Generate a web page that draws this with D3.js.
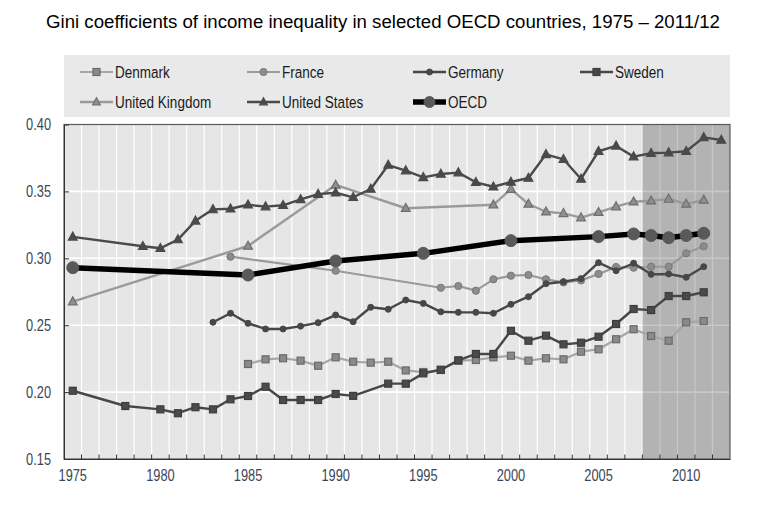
<!DOCTYPE html>
<html>
<head>
<meta charset="utf-8">
<script src="https://cdn.jsdelivr.net/npm/d3@7"></script>
<style>
  html, body { margin: 0; padding: 0; background: #ffffff; }
  svg { display: block; }
  text { font-family: "Liberation Sans", Arial, sans-serif; }
</style>
</head>
<body>
<svg id="chart" width="760" height="505"></svg>
<script>
// ---------- DATA ----------
const title = "Gini coefficients of income inequality in selected OECD countries, 1975 \u2013 2011/12";
const categories = d3.range(1975, 2013);               // yearly category axis 1975..2012
const xTickLabels = ["1975", "1980", "1985", "1990", "1995", "2000", "2005", "2010"];
const yTickValues = [0.15, 0.20, 0.25, 0.30, 0.35, 0.40];
const shadedYears = [2008, 2012];

const denmarkYears  = [1985,1986,1987,1988,1989,1990,1991,1992,1993,1994,1995,1996,1997,1998,1999,2000,2001,2002,2003,2004,2005,2006,2007,2008,2009,2010,2011];
const denmarkValues = [0.221,0.2245,0.2253,0.2235,0.2197,0.226,0.2227,0.222,0.2227,0.2162,0.215,0.2165,0.2235,0.224,0.226,0.2272,0.2235,0.2253,0.2245,0.2302,0.232,0.2395,0.247,0.2419,0.2384,0.2522,0.2531];

const franceYears  = [1984,1990,1996,1997,1998,1999,2000,2001,2002,2003,2004,2005,2006,2007,2008,2009,2010,2011];
const franceValues = [0.3012,0.2907,0.278,0.2793,0.2758,0.2843,0.287,0.2875,0.2843,0.282,0.2835,0.2883,0.2935,0.293,0.2937,0.2937,0.3037,0.309];

const germanyYears  = [1983,1984,1985,1986,1987,1988,1989,1990,1991,1992,1993,1994,1995,1996,1997,1998,1999,2000,2001,2002,2003,2004,2005,2006,2007,2008,2009,2010,2011];
const germanyValues = [0.2522,0.2589,0.2514,0.2472,0.2472,0.2493,0.2519,0.2576,0.2526,0.2634,0.2619,0.2688,0.2663,0.26,0.2596,0.2596,0.2589,0.2656,0.2713,0.281,0.2825,0.2848,0.2967,0.2907,0.2963,0.288,0.2883,0.2858,0.2937];

const swedenYears  = [1975,1978,1980,1981,1982,1983,1984,1985,1986,1987,1988,1989,1990,1991,1993,1994,1995,1996,1997,1998,1999,2000,2001,2002,2003,2004,2005,2006,2007,2008,2009,2010,2011];
const swedenValues = [0.201,0.1896,0.1871,0.1842,0.1887,0.1871,0.1946,0.1971,0.204,0.1941,0.1941,0.1941,0.1986,0.1972,0.2063,0.2063,0.214,0.2167,0.2237,0.2285,0.2285,0.2458,0.2384,0.2422,0.2357,0.2369,0.2414,0.2509,0.2621,0.2613,0.2718,0.2718,0.2746];

const ukYears  = [1975,1985,1990,1994,1999,2000,2001,2002,2003,2004,2005,2006,2007,2008,2009,2010,2011];
const ukValues = [0.2676,0.3092,0.3548,0.3374,0.34,0.3517,0.3406,0.3348,0.3336,0.3304,0.3344,0.3386,0.3423,0.343,0.3443,0.3406,0.3436];

const usYears  = [1975,1979,1980,1981,1982,1983,1984,1985,1986,1987,1988,1989,1990,1991,1992,1993,1994,1995,1996,1997,1998,1999,2000,2001,2002,2003,2004,2005,2006,2007,2008,2009,2010,2011,2012];
const usValues = [0.316,0.309,0.3075,0.314,0.328,0.3366,0.337,0.34,0.3386,0.3396,0.344,0.348,0.349,0.3456,0.3518,0.3697,0.3655,0.3605,0.363,0.364,0.3568,0.3535,0.357,0.36,0.3777,0.374,0.3593,0.38,0.384,0.376,0.3785,0.379,0.38,0.3904,0.3884];

const oecdYears  = [1975,1985,1990,1995,2000,2005,2007,2008,2009,2010,2011];
const oecdValues = [0.293,0.2875,0.298,0.3037,0.3132,0.3162,0.3182,0.317,0.3154,0.317,0.3187];

const seriesNames = ["Denmark", "France", "Germany", "Sweden", "United Kingdom", "United States", "OECD"];

// ---------- STYLES ----------
const styles = {
  "Denmark":        {line: "#a6a6a6", width: 2.2, marker: "square",   size: 7,  fill: "#8a8a8a", stroke: "#6a6a6a"},
  "France":         {line: "#9a9a9a", width: 2.2, marker: "circle",   size: 3.6, fill: "#8c8c8c", stroke: "#777777"},
  "Germany":        {line: "#474747", width: 2.4, marker: "circle",   size: 3,  fill: "#474747", stroke: "#474747"},
  "Sweden":         {line: "#474747", width: 2.4, marker: "square",   size: 7,  fill: "#4a4a4a", stroke: "#3d3d3d"},
  "United Kingdom": {line: "#9a9a9a", width: 2.4, marker: "triangle", size: 8,  fill: "#8f8f8f", stroke: "#6e6e6e"},
  "United States":  {line: "#4a4a4a", width: 2.4, marker: "triangle", size: 8,  fill: "#4a4a4a", stroke: "#4a4a4a"},
  "OECD":           {line: "#000000", width: 5.5, marker: "circle",   size: 6,  fill: "#595959", stroke: "#595959"}
};

const seriesData = {
  "Denmark":        d3.zip(denmarkYears, denmarkValues),
  "France":         d3.zip(franceYears, franceValues),
  "Germany":        d3.zip(germanyYears, germanyValues),
  "Sweden":         d3.zip(swedenYears, swedenValues),
  "United Kingdom": d3.zip(ukYears, ukValues),
  "United States":  d3.zip(usYears, usValues),
  "OECD":           d3.zip(oecdYears, oecdValues)
};

// ---------- LAYOUT ----------
const svg = d3.select("#chart");
const plot = {left: 64, right: 730, top: 124.5, bottom: 459};
const narrowTick = 0.8, narrowLegend = 0.82;

const x = d3.scaleBand().domain(categories).range([plot.left, plot.right]).padding(0);
const y = d3.scaleLinear().domain([0.15, 0.40]).range([plot.bottom, plot.top]);
const cx = yr => x(yr) + x.bandwidth() / 2;

// Title
svg.append("text")
  .attr("x", 383).attr("y", 28)
  .attr("text-anchor", "middle")
  .attr("font-size", 17.5)
  .attr("textLength", 674)
  .attr("lengthAdjust", "spacingAndGlyphs")
  .attr("fill", "#000")
  .text(title);

// Legend box
svg.append("rect")
  .attr("x", plot.left).attr("y", 55)
  .attr("width", plot.right - plot.left).attr("height", 62)
  .attr("fill", "#e9e9e9");

// Plot background
svg.append("rect")
  .attr("x", plot.left).attr("y", plot.top)
  .attr("width", plot.right - plot.left).attr("height", plot.bottom - plot.top)
  .attr("fill", "#e6e6e6");

// Vertical gridlines at band boundaries
const g = svg.append("g");
g.selectAll("line.vg").data(categories.slice(1))
  .join("line").attr("class", "vg")
  .attr("x1", d => x(d)).attr("x2", d => x(d))
  .attr("y1", plot.top).attr("y2", plot.bottom)
  .attr("stroke", "#ffffff").attr("stroke-width", 1.2);

// Horizontal gridlines
g.selectAll("line.hg").data(yTickValues.slice(1, -1))
  .join("line").attr("class", "hg")
  .attr("x1", plot.left).attr("x2", plot.right)
  .attr("y1", d => y(d)).attr("y2", d => y(d))
  .attr("stroke", "#ffffff").attr("stroke-width", 1.6);

// Shaded area
svg.append("rect")
  .attr("x", x(shadedYears[0])).attr("y", plot.top)
  .attr("width", x(shadedYears[1]) + x.bandwidth() - x(shadedYears[0]))
  .attr("height", plot.bottom - plot.top)
  .attr("fill", "#000").attr("fill-opacity", 0.22);

// Border
svg.append("rect")
  .attr("x", plot.left).attr("y", plot.top)
  .attr("width", plot.right - plot.left).attr("height", plot.bottom - plot.top)
  .attr("fill", "none").attr("stroke", "#5a5a5a").attr("stroke-width", 1.2);

// Axes
const yAxis = d3.axisLeft(y).tickValues(yTickValues).tickFormat(d3.format(".2f")).tickSizeInner(-5).tickSizeOuter(0).tickPadding(0);
const yG = svg.append("g").attr("transform", `translate(${plot.left},0)`).call(yAxis);
yG.select(".domain").attr("stroke", "#333");
yG.selectAll(".tick line").attr("stroke", "#333");
yG.selectAll(".tick text")
  .attr("x", 0)
  .attr("transform", `translate(-13,0) scale(${narrowTick},1)`)
  .attr("font-size", 16).attr("fill", "#3a4658");

const xAxis = d3.axisBottom(x).tickValues(categories).tickSize(0).tickPadding(11)
  .tickFormat(d => xTickLabels.includes(String(d)) ? String(d) : "");
const xG = svg.append("g").attr("transform", `translate(0,${plot.bottom})`).call(xAxis);
xG.select(".domain").attr("stroke", "#333");
xG.selectAll(".tick text")
  .attr("transform", `scale(${narrowTick},1)`)
  .attr("font-size", 16).attr("fill", "#3a4658");
xG.selectAll("line.bt").data(categories.slice(1))
  .join("line").attr("class", "bt")
  .attr("x1", d => x(d)).attr("x2", d => x(d))
  .attr("y1", 0).attr("y2", -4.5)
  .attr("stroke", "#333");

// ---------- MARKERS ----------
function drawMarker(sel, st) {
  if (st.marker === "circle") {
    sel.append("circle").attr("r", st.size).attr("fill", st.fill).attr("stroke", st.stroke).attr("stroke-width", 1);
  } else if (st.marker === "square") {
    sel.append("rect").attr("x", -st.size/2).attr("y", -st.size/2)
      .attr("width", st.size).attr("height", st.size)
      .attr("fill", st.fill).attr("stroke", st.stroke).attr("stroke-width", 1.2);
  } else {
    const s = st.size;
    sel.append("path").attr("d", `M0,${-s*0.6}L${s*0.55},${s*0.4}L${-s*0.55},${s*0.4}Z`)
      .attr("fill", st.fill).attr("stroke", st.stroke).attr("stroke-width", 1.2);
  }
}

const line = d3.line().x(d => cx(d[0])).y(d => y(d[1]));

seriesNames.forEach(name => {
  const st = styles[name];
  const data = seriesData[name];
  const sg = svg.append("g");
  sg.append("path").datum(data)
    .attr("d", line)
    .attr("fill", "none")
    .attr("stroke", st.line)
    .attr("stroke-width", st.width)
    .attr("stroke-linejoin", "round");
  sg.selectAll("g.m").data(data).join("g").attr("class", "m")
    .attr("transform", d => `translate(${cx(d[0])},${y(d[1])})`)
    .each(function() { drawMarker(d3.select(this), st); });
});

// ---------- LEGEND ----------
const legendCols = [80, 247, 413, 580];
const legendRows = [72, 102];
const lg = svg.append("g");
seriesNames.forEach((name, i) => {
  const st = styles[name];
  const lx = legendCols[i % 4];
  const ly = legendRows[Math.floor(i / 4)];
  const item = lg.append("g").attr("transform", `translate(${lx},${ly})`);
  item.append("line").attr("x1", 0).attr("x2", 33).attr("y1", 0).attr("y2", 0)
    .attr("stroke", st.line).attr("stroke-width", st.width);
  const mk = item.append("g").attr("transform", "translate(16.5,0)");
  drawMarker(mk, Object.assign({}, st, {size: st.marker === "circle" ? Math.min(st.size, 5.5) : Math.min(st.size, 7)}));
  item.append("text")
    .attr("transform", `translate(35,6) scale(${narrowLegend},1)`)
    .attr("font-size", 16.5).attr("fill", "#1a1a1a")
    .text(name);
});
</script>
</body>
</html>
